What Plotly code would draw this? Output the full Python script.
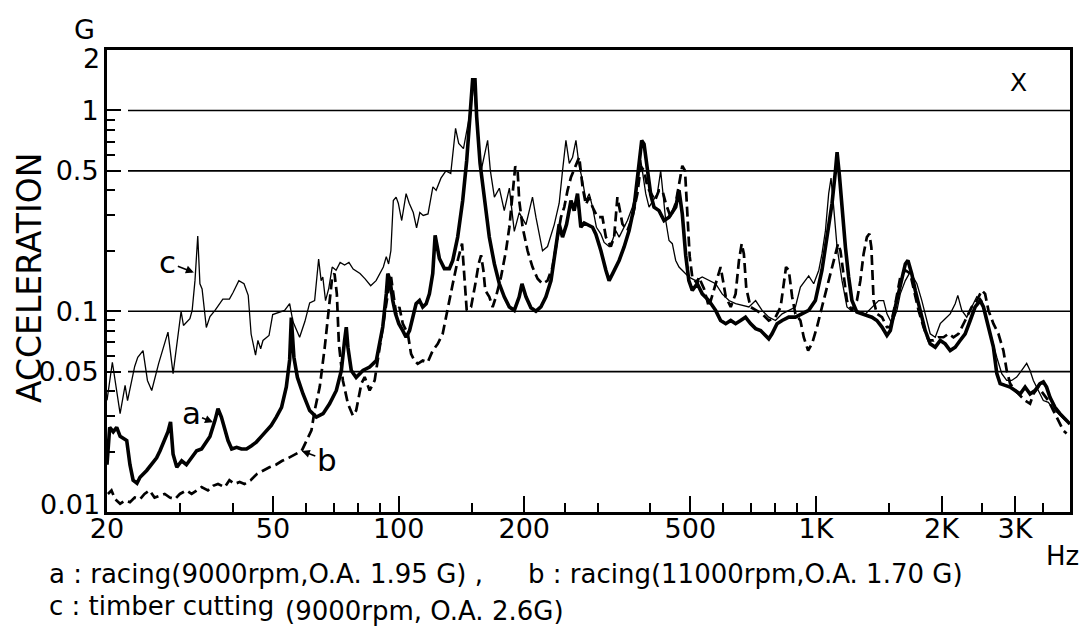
import math
import plotly.graph_objects as go

# ---------------- data ----------------
# a : racing (9000 rpm) - thick solid
a_freq = [20.0, 20.3, 20.7, 21.1, 21.5, 22.3, 22.7, 23.1, 23.6, 24.0, 24.9, 25.6, 26.3, 26.8, 27.5, 28.0,
          28.4, 28.8, 29.4, 30.2, 31.0, 31.9, 32.8, 33.7, 34.3, 35.3, 36.3, 36.9, 37.6, 38.3, 39.0, 39.8,
          40.9, 42.0, 43.2, 44.4, 45.6, 46.9, 48.2, 49.5, 50.9, 52.4, 53.8, 54.8, 55.3, 56.1, 57.2, 59.0,
          61.2, 63.5, 65.9, 68.3, 70.9, 72.9, 74.2, 74.9, 75.6, 77.0, 79.1, 82.1, 85.2, 88.4, 90.0, 91.6,
          93.4, 94.2, 95.4, 96.8, 98.3, 100.1, 102.3, 104.2, 106.2, 108.1, 110.1, 112.2, 114.2, 116.4,
          118.5, 120.7, 122.3, 125.2, 128.7, 132.3, 134.8, 138.5, 142.4, 145.6, 148.3, 150.4, 152.4,
          153.8, 156.7, 160.4, 164.9, 169.6, 174.3, 179.1, 184.2, 189.3, 194.5, 197.5, 201.9, 207.5,
          213.3, 219.2, 225.4, 231.8, 238.2, 242.5, 247, 252.6, 258.8, 263.4, 268.3, 273.3, 278.4, 291.5,
          296.9, 305.3, 313.8, 319.4, 325.3, 337.6, 347, 356.7, 366.6, 375.4, 382.4, 387.4, 394.5, 402,
          409.3, 420.8, 432.6, 444.6, 461.3, 469.8, 478.4, 487.5, 496, 505.5, 519.6, 534.1, 554, 575,
          591, 608, 625, 642, 660, 678, 697, 717, 737, 757, 771, 785, 807, 830, 861, 893, 927, 961, 997,
          1034, 1063, 1093, 1114, 1124, 1139, 1155, 1177, 1198, 1220, 1254, 1289, 1325, 1362, 1400, 1440,
          1480, 1508, 1550, 1593, 1638, 1662, 1698, 1730, 1778, 1828, 1879, 1932, 1986, 2041, 2098, 2157,
          2216, 2279, 2343, 2408, 2476, 2521, 2591, 2663, 2713, 2764, 2841, 2920, 3002, 3086, 3172, 3260,
          3351, 3444, 3508, 3571, 3639, 3741, 3845, 3954, 4064]
a_acc = [0.0172, 0.0264, 0.0251, 0.0264, 0.0238, 0.0227, 0.0172, 0.0144, 0.0139, 0.0149, 0.0161, 0.0172,
         0.0186, 0.0202, 0.0227, 0.0251, 0.0281, 0.0194, 0.0167, 0.0180, 0.0172, 0.0186, 0.0202, 0.0206,
         0.0219, 0.0238, 0.0286, 0.0327, 0.0297, 0.0255, 0.0227, 0.0206, 0.0210, 0.0206, 0.0206, 0.0214,
         0.0223, 0.0238, 0.0255, 0.0270, 0.0297, 0.0332, 0.0420, 0.0572, 0.0930, 0.0590, 0.0468, 0.0387,
         0.0320, 0.0297, 0.0309, 0.0346, 0.0403, 0.0507, 0.0715, 0.0832, 0.0660, 0.0507, 0.0468, 0.0507,
         0.0527, 0.0568, 0.0690, 0.0834, 0.122, 0.154, 0.142, 0.113, 0.097, 0.0867, 0.0801, 0.0742,
         0.0801, 0.0934, 0.109, 0.113, 0.105, 0.109, 0.122, 0.154, 0.239, 0.183, 0.163, 0.163, 0.179,
         0.234, 0.356, 0.565, 0.932, 1.42, 1.42, 0.932, 0.545, 0.356, 0.234, 0.172, 0.137, 0.118, 0.105,
         0.101, 0.118, 0.137, 0.118, 0.104, 0.100, 0.105, 0.118, 0.142, 0.214, 0.271, 0.234, 0.271,
         0.356, 0.317, 0.385, 0.262, 0.275, 0.262, 0.242, 0.200, 0.160, 0.142, 0.153, 0.179, 0.209,
         0.252, 0.330, 0.500, 0.708, 0.680, 0.500, 0.380, 0.330, 0.317, 0.283, 0.294, 0.330, 0.400,
         0.305, 0.190, 0.142, 0.127, 0.137, 0.122, 0.113, 0.101, 0.0899, 0.0867, 0.0899, 0.0867, 0.0899,
         0.0934, 0.0867, 0.0819, 0.0801, 0.0757, 0.0729, 0.0772, 0.0867, 0.0899, 0.0934, 0.0934, 0.097,
         0.101, 0.113, 0.160, 0.234, 0.344, 0.502, 0.620, 0.470, 0.317, 0.208, 0.148, 0.113, 0.099,
         0.097, 0.0955, 0.0934, 0.0899, 0.0834, 0.0757, 0.0801, 0.105, 0.137, 0.172, 0.179, 0.153,
         0.127, 0.101, 0.0801, 0.0688, 0.0662, 0.0715, 0.0688, 0.0637, 0.0662, 0.0715, 0.0772, 0.0899,
         0.105, 0.113, 0.105, 0.0834, 0.0662, 0.049, 0.0436, 0.0427, 0.0419, 0.0403, 0.0387, 0.0419,
         0.0387, 0.0403, 0.0436, 0.0445, 0.0419, 0.0373, 0.0332, 0.0309, 0.0291, 0.0274]

# b : racing (11000 rpm) - dashed
b_freq = [20.1, 20.5, 20.9, 21.5, 22.1, 22.7, 23.3, 24.0, 24.6, 25.3, 26.0, 26.7, 27.5, 28.3, 29.1, 29.9,
          31.0, 31.9, 32.8, 33.7, 34.9, 35.9, 36.9, 38.3, 39.3, 40.4, 41.6, 42.7, 44.2, 45.8, 47.4, 49.0,
          50.8, 52.6, 54.5, 56.5, 58.6, 61.8, 62.9, 64.7, 66.5, 68.1, 69.3, 70.2, 71.1, 71.9, 73.5, 75.6,
          77.7, 79.1, 81.4, 82.9, 85.2, 87.6, 89.1, 90.8, 92.5, 94.2, 95.9, 97.2, 98.6, 100.4, 102.3,
          105.2, 107.1, 109.1, 111.1, 114.2, 117.4, 120.7, 124.1, 127.5, 131.1, 134.8, 138.5, 141.9,
          145.6, 149.1, 152.7, 155.5, 157.6, 159.6, 161.3, 164.9, 168, 171.1, 175.9, 180.8, 184.2, 187.5,
          190.3, 192.8, 194.5, 198.2, 203.7, 209.3, 215.3, 221.2, 227.4, 233.8, 240.4, 244.9, 249.4, 254,
          258.8, 266, 270.9, 275.9, 281, 286.2, 291.5, 299.6, 307.9, 313.8, 322.5, 328.4, 334.4, 343.8,
          353.4, 363.2, 373.3, 380.4, 387.4, 394.5, 402, 411.6, 420.8, 428.6, 436.6, 448.7, 461.3, 469.8,
          478.4, 485.6, 491.8, 498.3, 505.5, 519.6, 524, 539, 554, 570, 583, 591, 599, 608, 625, 642, 654,
          664, 672, 681, 697, 717, 743, 771, 800, 823, 838, 848, 861, 877, 893, 918, 935, 958, 979, 1006,
          1034, 1063, 1093, 1114, 1130, 1145, 1166, 1187, 1220, 1254, 1278, 1301, 1325, 1343, 1358, 1375,
          1400, 1440, 1480, 1508, 1550, 1593, 1638, 1683, 1714, 1762, 1811, 1862, 1914, 1967, 2022, 2078,
          2136, 2196, 2279, 2363, 2430, 2498, 2544, 2591, 2663, 2738, 2814, 2866, 2920, 3002, 3086, 3172,
          3260, 3320, 3412, 3508, 3606, 3707, 3810, 3916, 3988]
b_acc = [0.0123, 0.0128, 0.0116, 0.0110, 0.0114, 0.0112, 0.0118, 0.0116, 0.0123, 0.0128, 0.0118, 0.0120,
         0.0123, 0.0118, 0.0116, 0.0123, 0.0128, 0.0123, 0.0128, 0.0133, 0.0128, 0.0135, 0.0138, 0.0133,
         0.0144, 0.0138, 0.0141, 0.0138, 0.0144, 0.0155, 0.0161, 0.0167, 0.0172, 0.0180, 0.0186, 0.0194,
         0.0202, 0.0255, 0.0320, 0.0420, 0.0660, 0.105, 0.148, 0.154, 0.122, 0.069, 0.0452, 0.0346, 0.0302,
         0.0320, 0.0436, 0.0470, 0.0403, 0.0452, 0.0568, 0.0742, 0.097, 0.122, 0.148, 0.122, 0.097, 0.105,
         0.0867, 0.0772, 0.0613, 0.0568, 0.0547, 0.0568, 0.0557, 0.0637, 0.0688, 0.0772, 0.101, 0.137,
         0.179, 0.217, 0.101, 0.105, 0.137, 0.172, 0.19, 0.16, 0.127, 0.118, 0.105, 0.118, 0.148, 0.2,
         0.262, 0.385, 0.526, 0.502, 0.356, 0.262, 0.2, 0.166, 0.145, 0.137, 0.142, 0.166, 0.234, 0.294,
         0.33, 0.4, 0.465, 0.54, 0.585, 0.416, 0.34, 0.37, 0.33, 0.294, 0.294, 0.234, 0.21, 0.234, 0.37,
         0.272, 0.252, 0.294, 0.385, 0.526, 0.502, 0.416, 0.385, 0.356, 0.4, 0.4, 0.345, 0.294, 0.345,
         0.43, 0.53, 0.502, 0.294, 0.188, 0.148, 0.137, 0.148, 0.13, 0.105, 0.13, 0.154, 0.166, 0.142,
         0.118, 0.105, 0.122, 0.179, 0.217, 0.193, 0.13, 0.105, 0.101, 0.097, 0.0899, 0.0934, 0.105,
         0.142, 0.166, 0.16, 0.118, 0.097, 0.0899, 0.0742, 0.0637, 0.069, 0.0834, 0.105, 0.132, 0.166,
         0.193, 0.217, 0.2, 0.148, 0.113, 0.101, 0.113, 0.142, 0.193, 0.234, 0.243, 0.208, 0.113, 0.097,
         0.0934, 0.0834, 0.0834, 0.109, 0.148, 0.16, 0.154, 0.13, 0.101, 0.0834, 0.0715, 0.0715, 0.0742,
         0.0742, 0.0772, 0.0742, 0.0772, 0.0899, 0.105, 0.113, 0.127, 0.122, 0.101, 0.0867, 0.0772,
         0.0637, 0.0507, 0.0436, 0.0403, 0.038, 0.0359, 0.0346, 0.0387, 0.0419, 0.0387, 0.0359, 0.032,
         0.0286, 0.0255, 0.0246]

# c : timber cutting (9000 rpm) - thin solid
c_freq = [20.0, 20.6, 21.5, 22.1, 22.4, 23.3, 23.7, 24.4, 25.0, 25.6, 26.6, 28.0, 28.8, 30.1, 30.5, 31.6,
          32.0, 32.5, 33.0, 33.4, 33.8, 34.6, 35.3, 36.3, 37.9, 39.3, 40.1, 41.4, 42.6, 43.6, 44.3, 45.4,
          46.0, 46.7, 47.3, 48.9, 49.9, 51.3, 53.3, 54.8, 55.8, 57.9, 59.6, 61.2, 62.9, 64.3, 65.2, 65.8,
          66.8, 68.0, 69.3, 70.8, 72.4, 74.2, 76.0, 77.8, 80.8, 83.1, 85.7, 88.3, 91.9, 93.4, 94.6, 95.8,
          97.1, 98.6, 99.8, 101.7, 104.2, 106.0, 108.4, 110.4, 112.4, 114.5, 117.6, 120.8, 123.0, 126.3,
          129.8, 133.3, 136.9, 139.3, 143.0, 147.7, 151.0, 157.6, 163.4, 165.9, 169.6, 174.3, 179.1,
          184.2, 189.3, 194.5, 201.9, 209.3, 213.3, 221.2, 227.4, 236, 242.5, 247, 251.7, 256.4, 261.1,
          266, 270.9, 275.9, 281, 286.2, 291.5, 297.8, 305.3, 310.8, 319.4, 325.3, 331.4, 337.6, 347,
          353.4, 363.2, 373.3, 380.4, 391, 398.2, 416.8, 424.6, 436.6, 444.6, 452.8, 461.3, 469.8, 496,
          515, 534, 554, 575, 596, 619, 642, 666, 691, 717, 743, 771, 800, 830, 861, 893, 918, 944, 961,
          988, 1016, 1034, 1054, 1073, 1087, 1103, 1124, 1155, 1187, 1220, 1266, 1314, 1362, 1414, 1453,
          1480, 1521, 1564, 1593, 1638, 1683, 1746, 1794, 1828, 1879, 1932, 1986, 2041, 2098, 2157, 2188,
          2237, 2299, 2363, 2430, 2498, 2568, 2639, 2713, 2789, 2866, 2946, 3028, 3113, 3200, 3260, 3320,
          3412, 3508, 3606, 3707, 3810, 3954, 4064]
c_acc = [0.036, 0.0557, 0.0309, 0.0427, 0.0359, 0.0531, 0.059, 0.0637, 0.0452, 0.0403, 0.055, 0.0787,
         0.0489, 0.0997, 0.0849, 0.0917, 0.101, 0.142, 0.237, 0.137, 0.129, 0.083, 0.094, 0.101, 0.115,
         0.115, 0.124, 0.142, 0.137, 0.12, 0.077, 0.0605, 0.0715, 0.065, 0.0715, 0.0757, 0.0962, 0.098,
         0.101, 0.109, 0.0888, 0.0742, 0.0888, 0.11, 0.113, 0.182, 0.142, 0.148, 0.113, 0.13, 0.166,
         0.16, 0.175, 0.17, 0.175, 0.162, 0.154, 0.145, 0.134, 0.142, 0.166, 0.187, 0.172, 0.2, 0.356,
         0.37, 0.345, 0.283, 0.385, 0.345, 0.31, 0.26, 0.31, 0.3, 0.305, 0.416, 0.4, 0.46, 0.5, 0.485,
         0.814, 0.685, 0.645, 0.93, 1.40, 0.50, 0.71, 0.50, 0.37, 0.41, 0.317, 0.41, 0.25, 0.31, 0.27,
         0.37, 0.294, 0.20, 0.21, 0.27, 0.345, 0.50, 0.71, 0.545, 0.585, 0.71, 0.526, 0.448, 0.356, 0.385,
         0.33, 0.262, 0.242, 0.22, 0.21, 0.225, 0.252, 0.234, 0.262, 0.283, 0.33, 0.416, 0.565, 0.385,
         0.33, 0.385, 0.5, 0.283, 0.225, 0.217, 0.179, 0.166, 0.148, 0.142, 0.148, 0.142, 0.137, 0.122,
         0.113, 0.109, 0.107, 0.105, 0.113, 0.101, 0.0934, 0.0899, 0.097, 0.101, 0.105, 0.132, 0.142,
         0.15, 0.137, 0.16, 0.193, 0.252, 0.385, 0.46, 0.33, 0.208, 0.142, 0.105, 0.1, 0.1, 0.097, 0.105,
         0.113, 0.113, 0.097, 0.0867, 0.101, 0.122, 0.142, 0.157, 0.137, 0.113, 0.097, 0.0772, 0.0742,
         0.0867, 0.0918, 0.097, 0.109, 0.12, 0.101, 0.0934, 0.105, 0.118, 0.113, 0.0899, 0.0742, 0.059,
         0.0489, 0.0452, 0.0452, 0.047, 0.0507, 0.055, 0.0507, 0.0452, 0.0403, 0.0359, 0.0352, 0.0326,
         0.0309, 0.0286, 0.0275]

x_tick_vals = [20, 50, 100, 200, 500, 1000, 2000, 3000]
x_tick_text = ["20", "50", "100", "200", "500", "1K", "2K", "3K"]
x_minor_vals = [30, 40, 60, 70, 80, 90, 150, 250, 300, 400, 600, 700, 800, 900, 1500, 2500, 3500]
y_tick_vals = [0.01, 0.05, 0.1, 0.5, 1, 2]
# the end labels "0.01" and "2" are lettered just inside their ticks (drawn below as text)
y_tick_text = ["", "0.05", "0.1", "0.5", "1", ""]
y_end_labels = ["0.01", "2"]
y_minor_vals = [0.02, 0.03, 0.04, 0.06, 0.07, 0.08, 0.09, 0.2, 0.3, 0.4, 0.6, 0.7, 0.8, 0.9]
grid_vals = [0.05, 0.1, 0.5, 1]
x_range = [20, 4064]
y_range = [0.01, 2]

# label arrows: (letter, tip frequency, tip acceleration)
label_tips = [("c", 32.3, 0.156), ("a", 35.9, 0.028), ("b", 58.6, 0.0201)]
label_offsets = {"c": (-26, -10), "a": (-22, -9), "b": (25, 9)}

# ---------------- layout geometry ----------------
W, H = 1084, 629
ML, MR, MT, MB = 107, 14, 50, 117
PW, PH = W - ML - MR, H - MT - MB
FONT = "DejaVu Sans"


def px(x):
    return (x - ML) / PW


def py(y):
    return (H - MB - y) / PH


fig = go.Figure()
fig.add_trace(go.Scatter(x=c_freq, y=c_acc, mode="lines", name="c",
                         line=dict(color="black", width=1.3)))
fig.add_trace(go.Scatter(x=b_freq, y=b_acc, mode="lines", name="b",
                         line=dict(color="black", width=2.7, dash="10px,5px")))
fig.add_trace(go.Scatter(x=a_freq, y=a_acc, mode="lines", name="a",
                         line=dict(color="black", width=3.6)))

for g in grid_vals:
    fig.add_shape(type="line", xref="paper", yref="y", x0=px(128), x1=1, y0=g, y1=g,
                  line=dict(color="black", width=1.6), layer="below")

annotations = []
for letter, f, acc in label_tips:
    ax, ay = label_offsets[letter]
    annotations.append(dict(x=math.log10(f), y=math.log10(acc), xref="x", yref="y",
                            text=letter, showarrow=True, ax=ax, ay=ay,
                            arrowhead=2, arrowsize=1, arrowwidth=1.6, arrowcolor="black",
                            font=dict(family=FONT, size=31, color="black")))


def txt(text, x, y, size, xanchor="center", angle=0):
    return dict(text=text, x=px(x), y=py(y), xref="paper", yref="paper", showarrow=False,
                xanchor=xanchor, yanchor="middle", textangle=angle, borderpad=0,
                font=dict(family=FONT, size=size, color="black"))


annotations += [
    txt(y_end_labels[0], 101, 504, 27, xanchor="right"),
    txt(y_end_labels[1], 101, 59, 27, xanchor="right"),
    txt("G", 84, 30, 27),
    txt("X", 1018, 82, 25),
    txt("Hz", 1062, 556, 26),
    txt("ACCELERATION", 29, 278, 33, angle=-90),
    txt("a : racing(9000rpm,O.A. 1.95 G) ,", 48, 574, 26, xanchor="left"),
    txt("b : racing(11000rpm,O.A. 1.70 G)", 527, 574, 26, xanchor="left"),
    txt("c : timber cutting", 48, 606, 26, xanchor="left"),
    txt("(9000rpm, O.A. 2.6G)", 284, 611, 26, xanchor="left"),
]

fig.update_layout(
    width=W, height=H, autosize=False,
    margin=dict(l=ML, r=MR, t=MT, b=MB, pad=0),
    paper_bgcolor="white", plot_bgcolor="white",
    showlegend=False,
    annotations=annotations,
    xaxis=dict(type="log", range=[math.log10(x_range[0]), math.log10(x_range[1])],
               tickmode="array", tickvals=x_tick_vals, ticktext=x_tick_text,
               ticks="inside", ticklen=16, tickwidth=2, tickcolor="black",
               ticklabelstandoff=-9,
               showline=True, linewidth=3, linecolor="black", mirror=True,
               showgrid=False, zeroline=False,
               tickfont=dict(family=FONT, size=27, color="black"),
               minor=dict(tickmode="array", tickvals=x_minor_vals, ticks="inside", ticklen=9,
                          tickwidth=1.6, tickcolor="black", showgrid=False)),
    yaxis=dict(type="log", range=[math.log10(y_range[0]), math.log10(y_range[1])],
               tickmode="array", tickvals=y_tick_vals, ticktext=y_tick_text,
               ticks="inside", ticklen=14, tickwidth=2, tickcolor="black",
               showline=True, linewidth=3, linecolor="black", mirror=True,
               showgrid=False, zeroline=False,
               tickfont=dict(family=FONT, size=27, color="black"),
               minor=dict(tickmode="array", tickvals=y_minor_vals, ticks="inside", ticklen=8,
                          tickwidth=1.6, tickcolor="black", showgrid=False)),
)

fig.write_html("out.html")
